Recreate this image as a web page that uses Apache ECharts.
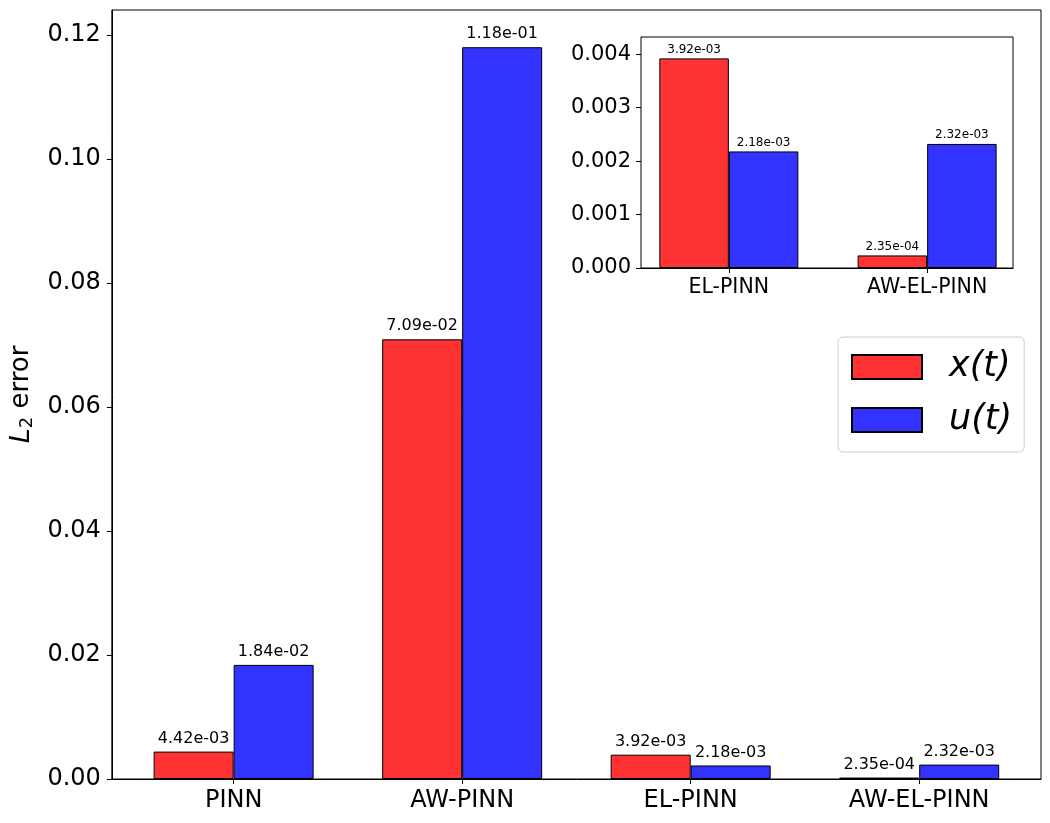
<!DOCTYPE html>
<html>
<head>
<meta charset="utf-8">
<script src="https://cdn.jsdelivr.net/npm/echarts@6/dist/echarts.min.js"></script>
<style>
html,body{margin:0;padding:0;background:#fff;}
#chart{width:1050px;height:823px;}
</style>
</head>
<body>
<div id="chart"></div>
<script>
const categories = ['PINN', 'AW-PINN', 'EL-PINN', 'AW-EL-PINN'];
const xErr = [4.42e-3, 7.09e-2, 3.92e-3, 2.35e-4];
const uErr = [1.84e-2, 1.18e-1, 2.18e-3, 2.32e-3];
const insetCategories = ['EL-PINN', 'AW-EL-PINN'];
const insetXErr = [3.92e-3, 2.35e-4];
const insetUErr = [2.18e-3, 2.32e-3];
const mainYTicks = [0, 0.02, 0.04, 0.06, 0.08, 0.10, 0.12];
const insetYTicks = [0, 0.001, 0.002, 0.003, 0.004];
const seriesNames = ['x(t)', 'u(t)'];

const FONT = 'DejaVu Sans';
const RED = 'rgba(255,0,0,0.8)';
const BLUE = 'rgba(0,0,255,0.8)';

function sci(v) {
  const s = v.toExponential(2);
  const [m, e] = s.split('e');
  const sign = e[0] === '-' ? '-' : '+';
  let d = e.replace(/^[+-]/, '');
  if (d.length < 2) d = '0' + d;
  return m + 'e' + sign + d;
}
const idx = arr => arr.map((_, i) => i);
const pairs = arr => arr.map((v, i) => [i, v]);

const chart = echarts.init(document.getElementById('chart'));
const tickStyle = { show: true, inside: false, length: 5, lineStyle: { color: '#000', width: 1 } };
const axisLine = { show: true, onZero: false, lineStyle: { color: '#000', width: 1 } };

function barSeries(name, data, color, xi, yi, fontSize, dist, barW) {
  return {
    type: 'bar', name: name, data: pairs(data),
    xAxisIndex: xi, yAxisIndex: yi,
    barWidth: barW, barGap: '0%',
    itemStyle: { color: color, borderColor: '#000', borderWidth: 1 },
    label: {
      show: true, position: 'top', distance: dist,
      fontFamily: FONT, fontSize: fontSize, color: '#000',
      formatter: p => sci(p.value[1])
    },
    emphasis: { disabled: true },
    animation: false
  };
}

const option = {
  animation: false,
  backgroundColor: '#fff',
  textStyle: { fontFamily: FONT },
  grid: [
    { left: 111, top: 10, width: 930, height: 769, show: true, borderColor: '#000', borderWidth: 1, backgroundColor: 'transparent', z: 0 },
    { left: 641, top: 37, width: 372, height: 231, show: true, borderColor: '#000', borderWidth: 1, backgroundColor: '#fff', z: 5 }
  ],
  legend: {
    data: seriesNames,
    orient: 'vertical',
    left: 838, top: 337,
    padding: [10, 12, 12, 13],
    itemWidth: 70, itemHeight: 24, itemGap: 13,
    icon: 'rect',
    borderColor: '#cccccc', borderWidth: 1, borderRadius: 5,
    backgroundColor: 'rgba(255,255,255,0.8)',
    textStyle: { fontFamily: FONT, fontStyle: 'italic', fontSize: 35, color: '#000', lineHeight: 40, padding: [0, 0, 0, 22] },
    selectedMode: false
  },
  xAxis: [
    {
      type: 'value', gridIndex: 0, min: -0.533, max: 3.533,
      axisLine: axisLine,
      axisTick: Object.assign({ customValues: idx(categories) }, tickStyle),
      axisLabel: { customValues: idx(categories), formatter: v => categories[Math.round(v)], fontFamily: FONT, fontSize: 24, color: '#000', margin: 10 },
      splitLine: { show: false }
    },
    {
      type: 'value', gridIndex: 1, min: -0.443, max: 1.433,
      axisLine: axisLine,
      axisTick: Object.assign({ customValues: idx(insetCategories) }, tickStyle),
      axisLabel: { customValues: idx(insetCategories), formatter: v => insetCategories[Math.round(v)], fontFamily: FONT, fontSize: 20.5, color: '#000', margin: 9 },
      splitLine: { show: false }
    }
  ],
  yAxis: [
    {
      type: 'value', gridIndex: 0, min: 0, max: 0.124,
      axisLine: axisLine,
      axisTick: Object.assign({ customValues: mainYTicks }, tickStyle),
      axisLabel: { customValues: mainYTicks, fontFamily: FONT, fontSize: 24, color: '#000', margin: 11, formatter: v => v.toFixed(2) },
      splitLine: { show: false },
      name: '{i|L}{sub|2}{n| error}',
      nameLocation: 'middle', nameRotate: 90, nameGap: 71,
      nameTextStyle: {
        color: '#000', fontFamily: FONT, fontSize: 26,
        rich: {
          i: { fontFamily: FONT, fontStyle: 'italic', fontSize: 27, color: '#000' },
          sub: { fontFamily: FONT, fontSize: 18, color: '#000', padding: [12, 0, 0, 0] },
          n: { fontFamily: FONT, fontSize: 26, color: '#000' }
        }
      }
    },
    {
      type: 'value', gridIndex: 1, min: 0, max: 0.00432,
      axisLine: axisLine,
      axisTick: Object.assign({ customValues: insetYTicks }, tickStyle),
      axisLabel: { customValues: insetYTicks, fontFamily: FONT, fontSize: 21, color: '#000', margin: 10, formatter: v => v.toFixed(3) },
      splitLine: { show: false }
    }
  ],
  series: [
    barSeries(seriesNames[0], xErr, RED, 0, 0, 16, 5, 80),
    barSeries(seriesNames[1], uErr, BLUE, 0, 0, 16, 5, 80),
    Object.assign(barSeries(seriesNames[0], insetXErr, RED, 1, 1, 12, 3, 69.5), { z: 6 }),
    Object.assign(barSeries(seriesNames[1], insetUErr, BLUE, 1, 1, 12, 3, 69.5), { z: 6 })
  ]
};
chart.setOption(option);
</script>
</body>
</html>
